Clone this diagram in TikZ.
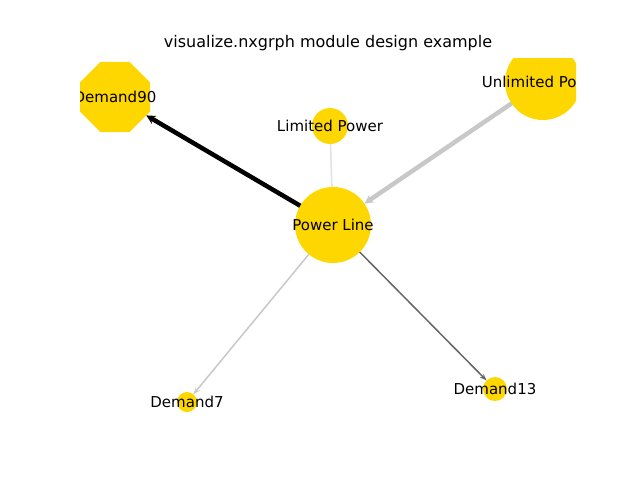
\documentclass[tikz,border=0pt]{standalone}
\usepackage{fontspec}
\setmainfont{DejaVu Sans}
\usetikzlibrary{arrows.meta,shapes.geometric}
\definecolor{gold}{HTML}{FFD700}
\tikzset{
 nd/.style={circle,fill=gold,inner sep=0pt,outer sep=0pt,minimum size=#1},
 lbl/.style={font=\fontsize{15}{17}\selectfont,inner sep=0pt},
 ar/.style={-{Stealth[length=7pt,width=5pt]}},
 arb/.style={-{Stealth[length=9pt,width=9pt]}}
}
\begin{document}
\begin{tikzpicture}[x=1pt,y=-1pt]
\useasboundingbox (0,0) rectangle (640,480);
\node[lbl,font=\fontsize{16}{18}\selectfont] (title) at (328,43) {visualize.nxgrph module design example};
\begin{scope}
\clip (80,58) rectangle (576,422);
\node[nd=76pt] (pl) at (333,225) {};
\node[nd=36pt] (lp) at (330,126) {};
\node[nd=76pt] (up) at (543,82) {};
\node[nd=20pt] (d7) at (187,402) {};
\node[nd=24pt] (d13) at (495,389) {};
\node[regular polygon,regular polygon sides=8,fill=gold,inner sep=0pt,outer sep=0pt,minimum size=76pt] (d90) at (115,97) {};
\draw[arb,line width=4.5pt,black] (pl) -- (d90);
\draw[arb,line width=4.5pt,color={rgb,255:red,200;green,200;blue,200}] (up) -- (pl);
\draw[line width=1.5pt,color={rgb,255:red,225;green,225;blue,225}] (lp) -- (pl);
\draw[ar,line width=1.5pt,color={rgb,255:red,200;green,200;blue,200}] (pl) -- (d7);
\draw[ar,line width=1.5pt,color={rgb,255:red,102;green,102;blue,102}] (pl) -- (d13);
\node[lbl] (t1) at (pl) {Power Line};
\node[lbl] (t2) at (lp) {Limited Power};
\node[lbl] (t3) at (up) {Unlimited Power};
\node[lbl] (t4) at (d7) {Demand7};
\node[lbl] (t5) at (d13) {Demand13};
\node[lbl] (t6) at (d90) {Demand90};
\end{scope}
\end{tikzpicture}
\end{document}
